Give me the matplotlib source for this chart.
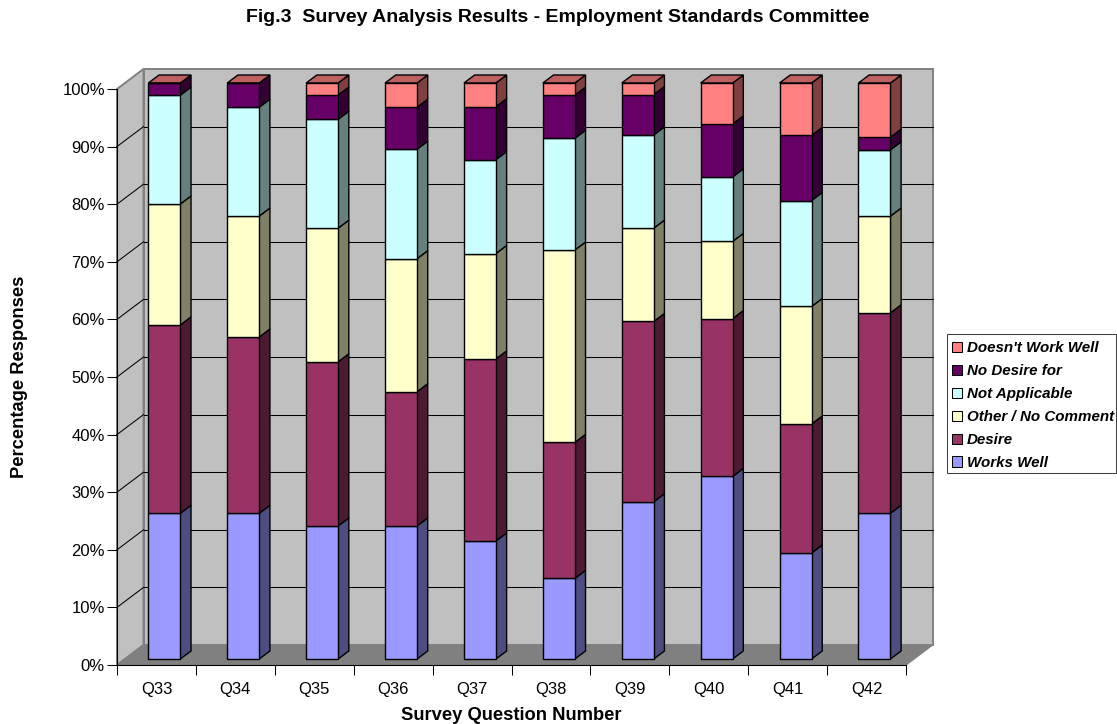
import matplotlib
matplotlib.use('Agg')
import matplotlib.pyplot as plt
from matplotlib.patches import Polygon, Patch, Rectangle

plt.rcParams['font.family'] = ['Liberation Sans', 'DejaVu Sans']

questions = ['Q33', 'Q34', 'Q35', 'Q36', 'Q37', 'Q38', 'Q39', 'Q40', 'Q41', 'Q42']

works_well = [25.3, 25.3, 23.1, 23.1, 20.5, 14.0, 27.3, 31.7, 18.4, 25.3]
desire = [32.7, 30.6, 28.5, 23.3, 31.6, 23.6, 31.3, 27.4, 22.4, 34.8]
other = [21.0, 21.0, 23.2, 23.1, 18.3, 33.4, 16.2, 13.4, 20.4, 16.8]
not_applicable = [18.9, 18.9, 18.9, 19.0, 16.3, 19.4, 16.2, 11.2, 18.4, 11.5]
no_desire = [2.1, 4.2, 4.2, 7.3, 9.2, 7.5, 7.0, 9.2, 11.3, 2.2]
doesnt_work = [0.0, 0.0, 2.1, 4.2, 4.1, 2.1, 2.0, 7.1, 9.1, 9.4]

series = [works_well, desire, other, not_applicable, no_desire, doesnt_work]
names = ['Works Well', 'Desire', 'Other / No Comment', 'Not Applicable',
         'No Desire for', "Doesn't Work Well"]
front_colors = ['#9999FF', '#993366', '#FFFFCC', '#CCFFFF', '#660066', '#FF8080']
side_colors = ['#4D4D80', '#4D1A33', '#808066', '#668080', '#330033', '#804040']
top_color = '#BF6060'

yticks = [0, 10, 20, 30, 40, 50, 60, 70, 80, 90, 100]

# depth of the fake 3d box, in data units (categories, percent)
wall_dx = 0.336
wall_dy = 3.47
bar_left = 0.397
bar_width = 0.4056
bar_base = 1.04
bar_dx = 0.1356
bar_dy = 1.39

fig = plt.figure(figsize=(11.17, 7.24), dpi=100)
ax = fig.add_axes([117 / 1117, 1 - 665 / 724, 789 / 1117, 576 / 724])
ax.set_xlim(0, len(questions))
ax.set_ylim(0, 100)

n = len(questions)

# walls and floor
back = Polygon([(wall_dx, wall_dy), (n + wall_dx, wall_dy), (n + wall_dx, 100 + wall_dy), (wall_dx, 100 + wall_dy)],
               facecolor='#C0C0C0', edgecolor='#808080', linewidth=1.4, clip_on=False, zorder=1)
ax.add_patch(back)
side = Polygon([(0, 0), (wall_dx, wall_dy), (wall_dx, 100 + wall_dy), (0, 100)],
               facecolor='#C0C0C0', edgecolor='#808080', linewidth=1.4, clip_on=False, zorder=1)
ax.add_patch(side)
floor = Polygon([(0, 0), (n, 0), (n + wall_dx, wall_dy), (wall_dx, wall_dy)],
                facecolor='#808080', edgecolor='#808080', linewidth=1.0, clip_on=False, zorder=1)
ax.add_patch(floor)

# gridlines on the walls
for v in yticks[1:-1]:
    ax.plot([0, wall_dx], [v, v + wall_dy], color='black', lw=0.75, clip_on=False, zorder=2)
    ax.plot([wall_dx, n + wall_dx], [v + wall_dy, v + wall_dy], color='black', lw=0.75, clip_on=False, zorder=2)

# bars
bottoms = [bar_base] * n
for k in range(len(series)):
    vals = series[k]
    lefts = [i + bar_left for i in range(n)]
    ax.bar(lefts, vals, width=bar_width, bottom=bottoms, align='edge', color=front_colors[k],
           edgecolor='black', linewidth=1.0, zorder=4, clip_on=False)
    for i in range(n):
        x1 = lefts[i] + bar_width
        y0 = bottoms[i]
        y1 = bottoms[i] + vals[i]
        if vals[i] > 0:
            ax.add_patch(Polygon([(x1, y0), (x1 + bar_dx, y0 + bar_dy), (x1 + bar_dx, y1 + bar_dy), (x1, y1)],
                                 facecolor=side_colors[k], edgecolor='black', linewidth=1.0,
                                 clip_on=False, zorder=3))
    bottoms = [bottoms[i] + vals[i] for i in range(n)]

for i in range(n):
    x0 = i + bar_left
    x1 = x0 + bar_width
    y = bottoms[i]
    ax.add_patch(Polygon([(x0, y), (x1, y), (x1 + bar_dx, y + bar_dy), (x0 + bar_dx, y + bar_dy)],
                         facecolor=top_color, edgecolor='black', linewidth=1.0, clip_on=False, zorder=3))

# axes
for s in ['top', 'right']:
    ax.spines[s].set_visible(False)
ax.spines['left'].set_zorder(5)
ax.spines['bottom'].set_zorder(5)
ax.patch.set_visible(False)

ax.set_yticks(yticks)
ax.set_yticklabels([str(v) + '%' for v in yticks], fontsize=12)
ax.tick_params(axis='y', length=7.2, width=0.75, pad=1.5)
ax.set_xticks(range(n + 1))
ax.set_xticklabels([])
ax.tick_params(axis='x', which='major', length=7.2, width=0.75)
ax.set_xticks([i + 0.5 for i in range(n)], minor=True)
ax.set_xticklabels(questions, minor=True, fontsize=12)
ax.tick_params(axis='x', which='minor', length=0, pad=12)

ax.set_xlabel('Survey Question Number', fontsize=13.2, fontweight='bold', labelpad=7.5)
ax.set_ylabel('Percentage Responses', fontsize=13.2, fontweight='bold')
ax.yaxis.set_label_coords(-0.113, 0.5)

fig.text(558 / 1117, 1 - 17 / 724, 'Fig.3  Survey Analysis Results - Employment Standards Committee',
         fontsize=14, fontweight='bold', ha='center', va='center')

# legend box is narrower on the right than the legend's own padding allows
fig.add_artist(Rectangle((947 / 1117, 1 - 473 / 724), 169 / 1117, 139 / 724, transform=fig.transFigure,
                         facecolor='white', edgecolor='#404040', linewidth=0.75))
handles = []
for k in range(len(series) - 1, -1, -1):
    handles.append(Patch(facecolor=front_colors[k], edgecolor='black', linewidth=0.75, label=names[k]))
leg = fig.legend(handles=handles, loc='upper left', bbox_to_anchor=(947 / 1117, 1 - 336.5 / 724),
                 bbox_transform=fig.transFigure, prop={'size': 10.9, 'weight': 'bold', 'style': 'italic'},
                 frameon=False, handlelength=0.65, handleheight=0.65,
                 handletextpad=0.31, labelspacing=0.585, borderpad=0.33, borderaxespad=0)

fig.savefig('out.png', dpi=100)
